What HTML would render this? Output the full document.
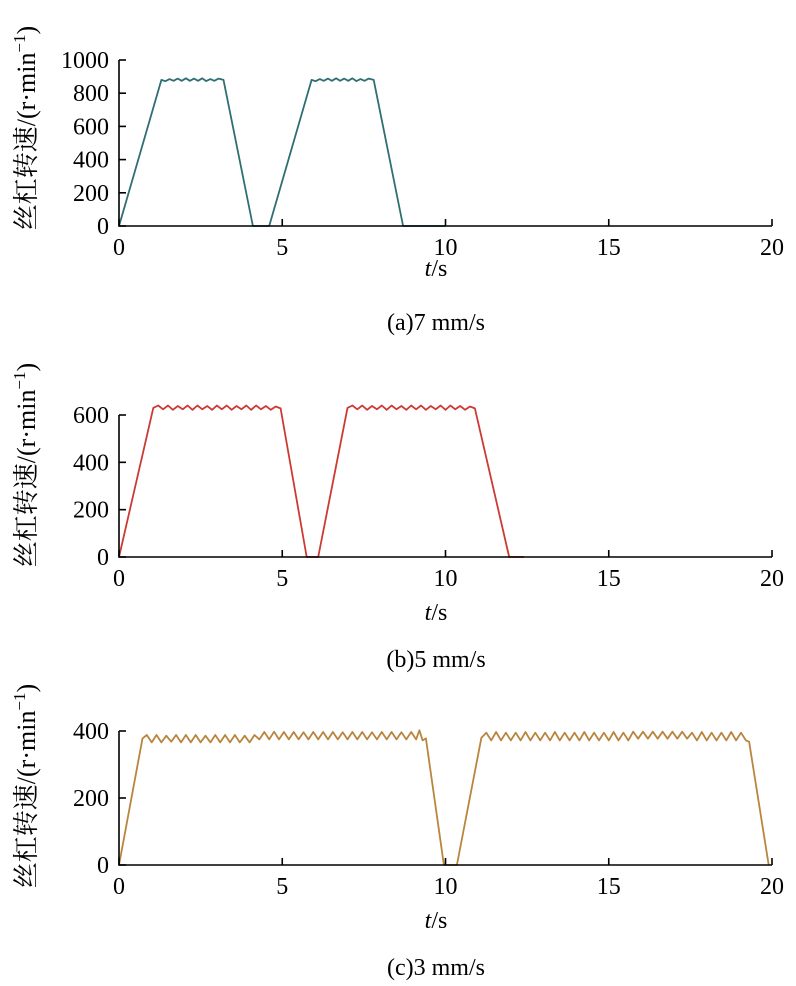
<!DOCTYPE html>
<html><head><meta charset="utf-8">
<style>
html,body{margin:0;padding:0;background:#fff;}
svg{display:block;font-family:"Liberation Serif","Noto Serif CJK SC",serif;}
</style></head>
<body>
<svg id="chart" width="796" height="986" viewBox="0 0 796 986" xmlns="http://www.w3.org/2000/svg"></svg>
<script>
const xTicks = [0,5,10,15,20];
const aTicks = [0,200,400,600,800,1000];
const bTicks = [0,200,400,600];
const cTicks = [0,200,400];
const aTimes = [0,1.3,1.42,1.55,1.67,1.8,1.92,2.05,2.17,2.3,2.42,2.55,2.67,2.8,2.92,3.05,3.2,4.1,4.6,5.9,6.02,6.15,6.27,6.4,6.52,6.65,6.77,6.9,7.02,7.15,7.27,7.4,7.52,7.65,7.8,8.7,10];
const aValues = [0,880,872,885,875,888,875,890,875,888,875,890,873,885,875,888,880,0,0,880,872,885,875,888,875,890,875,888,875,890,873,885,875,888,880,0,0];
const bTimes = [0,1.05,1.2,1.35,1.5,1.65,1.8,1.95,2.1,2.25,2.4,2.55,2.7,2.85,3.0,3.15,3.3,3.45,3.6,3.75,3.9,4.05,4.2,4.35,4.5,4.65,4.8,4.95,5.75,6.1,7.0,7.15,7.3,7.45,7.6,7.75,7.9,8.05,8.2,8.35,8.5,8.65,8.8,8.95,9.1,9.25,9.4,9.55,9.7,9.85,10.0,10.15,10.3,10.45,10.6,10.75,10.9,11.95,12.4];
const bValues = [0,630,640,624,640,622,638,624,640,622,640,624,638,622,640,624,640,622,638,624,640,622,640,624,638,622,636,628,0,0,630,640,624,640,622,638,624,640,622,640,624,638,622,640,624,640,622,638,624,640,622,640,624,638,622,636,628,0,0];
const cTimes = [0,0.72,
0.85,1.0,1.15,1.3,1.45,1.6,1.75,
1.9,2.05,2.2,2.35,2.5,2.65,2.8,
2.95,3.1,3.25,3.4,3.55,3.7,3.85,
4.0,4.15,4.3,4.45,4.6,4.75,4.9,
5.05,5.2,5.35,5.5,5.65,5.8,5.95,
6.1,6.25,6.4,6.55,6.7,6.85,7.0,
7.15,7.3,7.45,7.6,7.75,7.9,8.05,
8.2,8.35,8.5,8.65,8.8,8.95,9.1,
9.2,9.3,9.4,9.95,10.35,11.1,
11.25,11.4,11.55,11.7,11.85,12.0,
12.15,12.3,12.45,12.6,12.75,12.9,
13.05,13.2,13.35,13.5,13.65,13.8,
13.95,14.1,14.25,14.4,14.55,14.7,
14.85,15.0,15.15,15.3,15.45,15.6,
15.75,15.9,16.05,16.2,16.35,16.5,
16.65,16.8,16.95,17.1,17.25,17.4,
17.55,17.7,17.85,18.0,18.15,18.3,
18.45,18.6,18.75,18.9,19.05,19.2,
19.3,19.9];
const cValues = [0,378,
388,366,388,366,386,368,388,
366,388,366,388,366,386,366,
388,366,388,366,388,366,386,
366,388,375,397,375,398,375,
397,375,397,375,396,375,397,
375,397,375,397,375,396,375,
397,375,397,375,396,375,397,
375,397,375,396,375,397,375,
402,372,378,0,0,380,
395,372,397,372,395,372,
395,372,397,372,395,372,
395,372,397,372,395,372,
395,372,397,372,395,372,
395,372,397,372,395,372,
398,377,398,377,398,377,
398,377,398,377,398,377,
395,372,397,372,395,372,
395,372,397,372,395,372,
368,0];

const NS='http://www.w3.org/2000/svg';
const svg=document.getElementById('chart');
function mk(tag,attrs,parent){const e=document.createElementNS(NS,tag);for(const k in attrs)e.setAttribute(k,attrs[k]);(parent||svg).appendChild(e);return e;}

const X0=119, X1=772;
function xs(t){return X0+(t/20)*(X1-X0);}

const panels=[
 {id:'a',y0:226,yTop:60,vmax:1000,ticks:aTicks,t:aTimes,v:aValues,color:'#2f6e73',tLabelY:276,capY:330,cap:'(a)7 mm/s',titleC:128},
 {id:'b',y0:557,yTop:415,vmax:600,ticks:bTicks,t:bTimes,v:bValues,color:'#cc3b33',tLabelY:620,capY:667,cap:'(b)5 mm/s',titleC:465},
 {id:'c',y0:865,yTop:731,vmax:400,ticks:cTicks,t:cTimes,v:cValues,color:'#b9853e',tLabelY:928,capY:975,cap:'(c)3 mm/s',titleC:786}
];

panels.forEach(p=>{
 const g=mk('g',{});
 
 
 const ys=v=>p.y0-(v/p.vmax)*(p.y0-p.yTop);
 let d='';
 p.t.forEach((t,i)=>{d+=(i?'L':'M')+xs(t).toFixed(1)+' '+ys(p.v[i]).toFixed(1);});
 const line=mk('path',{d:d,fill:'none',stroke:p.color,'stroke-width':1.8,'stroke-linejoin':'round'},g);
 
 
 const ax=mk('path',{d:`M${X0} ${p.yTop}V${p.y0}H${X1}`,fill:'none',stroke:'#000','stroke-width':1.6},g);
 
 
 xTicks.forEach(t=>{
  mk('line',{x1:xs(t),x2:xs(t),y1:p.y0,y2:p.y0-7,stroke:'#000','stroke-width':1.6},g);
  const tx=mk('text',{x:xs(t),y:p.y0+29,'font-size':24,'text-anchor':'middle'},g);
  tx.textContent=t;
  
  
 });
 p.ticks.forEach(v=>{
  mk('line',{x1:X0,x2:X0+7,y1:ys(v),y2:ys(v),stroke:'#000','stroke-width':1.6},g);
  const tx=mk('text',{x:109,y:ys(v)+8,'font-size':24,'text-anchor':'end'},g);
  tx.textContent=v;
  
  
 });
 const xl=mk('text',{x:436,y:p.tLabelY,'font-size':24,'text-anchor':'middle'},g);
 xl.innerHTML='<tspan font-style="italic">t</tspan>/s';
 
 
 const cp=mk('text',{x:436,y:p.capY,'font-size':24,'text-anchor':'middle'},g);
 cp.textContent=p.cap;
 
 
 const yt=mk('text',{x:0,y:0,'font-size':26,'text-anchor':'middle',transform:`translate(35 ${p.titleC}) rotate(-90)`},g);
 yt.innerHTML='丝杠转速/(r·min<tspan dy="-10" font-size="17">−1</tspan><tspan dy="10">)</tspan>';
 
 
});
</script>
</body></html>
